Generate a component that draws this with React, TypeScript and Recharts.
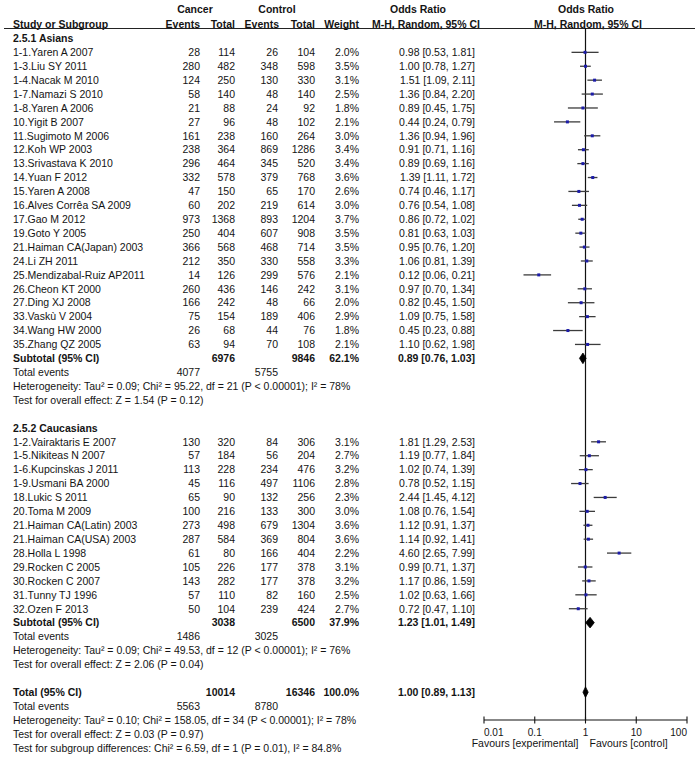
import React from 'react';
import { ComposedChart, XAxis, YAxis, Scatter, ErrorBar, ReferenceLine, Customized } from 'recharts';

const FONT = '"Liberation Sans", Arial, Helvetica, sans-serif';
const TEXT = '#141414';

// ---------- 2.5.1 Asians ----------
const asianStudies = [
  '1-1.Yaren A 2007', '1-3.Liu SY 2011', '1-4.Nacak M 2010', '1-7.Namazi S 2010', '1-8.Yaren A 2006',
  '10.Yigit B 2007', '11.Sugimoto M 2006', '12.Koh WP 2003', '13.Srivastava K 2010', '14.Yuan F 2012',
  '15.Yaren A 2008', '16.Alves Corrêa SA 2009', '17.Gao M 2012', '19.Goto Y 2005', '21.Haiman CA(Japan) 2003',
  '24.Li ZH 2011', '25.Mendizabal-Ruiz AP2011', '26.Cheon KT 2000', '27.Ding XJ 2008', '33.Vaskù V 2004',
  '34.Wang HW 2000', '35.Zhang QZ 2005',
];
const asianCancerEvents = [28, 280, 124, 58, 21, 27, 161, 238, 296, 332, 47, 60, 973, 250, 366, 212, 14, 260, 166, 75, 26, 63];
const asianCancerTotals = [114, 482, 250, 140, 88, 96, 238, 364, 464, 578, 150, 202, 1368, 404, 568, 350, 126, 436, 242, 154, 68, 94];
const asianControlEvents = [26, 348, 130, 48, 24, 48, 160, 869, 345, 379, 65, 219, 893, 607, 468, 330, 299, 146, 48, 189, 44, 70];
const asianControlTotals = [104, 598, 330, 140, 92, 102, 264, 1286, 520, 768, 170, 614, 1204, 908, 714, 558, 576, 242, 66, 406, 76, 108];
const asianWeights = [2.0, 3.5, 3.1, 2.5, 1.8, 2.1, 3.0, 3.4, 3.4, 3.6, 2.6, 3.0, 3.7, 3.5, 3.5, 3.3, 2.1, 3.1, 2.0, 2.9, 1.8, 2.1];
const asianOR = [0.98, 1.00, 1.51, 1.36, 0.89, 0.44, 1.36, 0.91, 0.89, 1.39, 0.74, 0.76, 0.86, 0.81, 0.95, 1.06, 0.12, 0.97, 0.82, 1.09, 0.45, 1.10];
const asianLow = [0.53, 0.78, 1.09, 0.84, 0.45, 0.24, 0.94, 0.71, 0.69, 1.11, 0.46, 0.54, 0.72, 0.63, 0.76, 0.81, 0.06, 0.70, 0.45, 0.75, 0.23, 0.62];
const asianHigh = [1.81, 1.27, 2.11, 2.20, 1.75, 0.79, 1.96, 1.16, 1.16, 1.72, 1.17, 1.08, 1.02, 1.03, 1.20, 1.39, 0.21, 1.34, 1.50, 1.58, 0.88, 1.98];

// ---------- 2.5.2 Caucasians ----------
const caucStudies = [
  '1-2.Vairaktaris E 2007', '1-5.Nikiteas N 2007', '1-6.Kupcinskas J 2011', '1-9.Usmani BA 2000', '18.Lukic S 2011',
  '20.Toma M 2009', '21.Haiman CA(Latin) 2003', '21.Haiman CA(USA) 2003', '28.Holla L 1998', '29.Rocken C 2005',
  '30.Rocken C 2007', '31.Tunny TJ 1996', '32.Ozen F 2013',
];
const caucCancerEvents = [130, 57, 113, 45, 65, 100, 273, 287, 61, 105, 143, 57, 50];
const caucCancerTotals = [320, 184, 228, 116, 90, 216, 498, 584, 80, 226, 282, 110, 104];
const caucControlEvents = [84, 56, 234, 497, 132, 133, 679, 369, 166, 177, 177, 82, 239];
const caucControlTotals = [306, 204, 476, 1106, 256, 300, 1304, 804, 404, 378, 378, 160, 424];
const caucWeights = [3.1, 2.7, 3.2, 2.8, 2.3, 3.0, 3.6, 3.6, 2.2, 3.1, 3.2, 2.5, 2.7];
const caucOR = [1.81, 1.19, 1.02, 0.78, 2.44, 1.08, 1.12, 1.14, 4.60, 0.99, 1.17, 1.02, 0.72];
const caucLow = [1.29, 0.77, 0.74, 0.52, 1.45, 0.76, 0.91, 0.92, 2.65, 0.71, 0.86, 0.63, 0.47];
const caucHigh = [2.53, 1.84, 1.39, 1.15, 4.12, 1.54, 1.37, 1.41, 7.99, 1.37, 1.59, 1.66, 1.10];

// ---------- subgroup summaries ----------
const subgroupTitles = ['2.5.1 Asians', '2.5.2 Caucasians'];
const subCancerTotals = [6976, 3038];
const subControlTotals = [9846, 6500];
const subWeights = [62.1, 37.9];
const subOR = [0.89, 1.23];
const subLow = [0.76, 1.01];
const subHigh = [1.03, 1.49];
const subCancerEvents = [4077, 1486];
const subControlEvents = [5755, 3025];
const subHeterogeneity = [
  'Heterogeneity: Tau² = 0.09; Chi² = 95.22, df = 21 (P < 0.00001); I² = 78%',
  'Heterogeneity: Tau² = 0.09; Chi² = 49.53, df = 12 (P < 0.00001); I² = 76%',
];
const subOverall = ['Test for overall effect: Z = 1.54 (P = 0.12)', 'Test for overall effect: Z = 2.06 (P = 0.04)'];

// ---------- overall ----------
const totalCancerTotal = 10014;
const totalControlTotal = 16346;
const totalWeight = 100.0;
const totalOR = [1.00, 0.89, 1.13];
const totalCancerEvents = 5563;
const totalControlEvents = 8780;
const totalNotes = [
  'Heterogeneity: Tau² = 0.10; Chi² = 158.05, df = 34 (P < 0.00001); I² = 78%',
  'Test for overall effect: Z = 0.03 (P = 0.97)',
  'Test for subgroup differences: Chi² = 6.59, df = 1 (P = 0.01), I² = 84.8%',
];

// ---------- axis ----------
const xTicks = [0.01, 0.1, 1, 10, 100];
const xTickLabels = ['0.01', '0.1', '1', '10', '100'];
const favoursLeft = 'Favours [experimental]';
const favoursRight = 'Favours [control]';

type Row = {
  pos: number;
  kind: 'group' | 'study' | 'subtotal' | 'events' | 'note' | 'blank';
  label?: string;
  c1?: string; c2?: string; c3?: string; c4?: string;
  weight?: string; ci?: string;
  est?: number; lo?: number; hi?: number;
};

const fmtCI = (e: number, l: number, h: number) => `${e.toFixed(2)} [${l.toFixed(2)}, ${h.toFixed(2)}]`;

const rows: Row[] = [];
const push = (r: Omit<Row, 'pos'>) => rows.push({ ...r, pos: rows.length } as Row);

const groups = [
  { names: asianStudies, ce: asianCancerEvents, ct: asianCancerTotals, oe: asianControlEvents, ot: asianControlTotals, w: asianWeights, or: asianOR, lo: asianLow, hi: asianHigh },
  { names: caucStudies, ce: caucCancerEvents, ct: caucCancerTotals, oe: caucControlEvents, ot: caucControlTotals, w: caucWeights, or: caucOR, lo: caucLow, hi: caucHigh },
];

groups.forEach((g, gi) => {
  push({ kind: 'group', label: subgroupTitles[gi] });
  g.names.forEach((n, i) => {
    push({
      kind: 'study', label: n,
      c1: String(g.ce[i]), c2: String(g.ct[i]), c3: String(g.oe[i]), c4: String(g.ot[i]),
      weight: `${g.w[i].toFixed(1)}%`, ci: fmtCI(g.or[i], g.lo[i], g.hi[i]),
      est: g.or[i], lo: g.lo[i], hi: g.hi[i],
    });
  });
  push({
    kind: 'subtotal', label: 'Subtotal (95% CI)', c2: String(subCancerTotals[gi]), c4: String(subControlTotals[gi]),
    weight: `${subWeights[gi].toFixed(1)}%`, ci: fmtCI(subOR[gi], subLow[gi], subHigh[gi]),
    est: subOR[gi], lo: subLow[gi], hi: subHigh[gi],
  });
  push({ kind: 'events', label: 'Total events', c1: String(subCancerEvents[gi]), c3: String(subControlEvents[gi]) });
  push({ kind: 'note', label: subHeterogeneity[gi] });
  push({ kind: 'note', label: subOverall[gi] });
  push({ kind: 'blank' });
});
push({
  kind: 'subtotal', label: 'Total (95% CI)', c2: String(totalCancerTotal), c4: String(totalControlTotal),
  weight: `${totalWeight.toFixed(1)}%`, ci: fmtCI(totalOR[0], totalOR[1], totalOR[2]),
  est: totalOR[0], lo: totalOR[1], hi: totalOR[2],
});
push({ kind: 'events', label: 'Total events', c1: String(totalCancerEvents), c3: String(totalControlEvents) });
totalNotes.forEach((t) => push({ kind: 'note', label: t }));

const rowTicks = rows.map((r) => r.pos);

const studyPoints = rows
  .filter((r) => r.kind === 'study')
  .map((r) => ({ x: r.est as number, y: r.pos, err: [(r.est as number) - (r.lo as number), (r.hi as number) - (r.est as number)] }));

const DIAMOND_HALF = 0.38;
const diamonds = rows
  .filter((r) => r.kind === 'subtotal')
  .map((r) => [
    { x: r.lo, y: r.pos },
    { x: r.est, y: r.pos - DIAMOND_HALF },
    { x: r.hi, y: r.pos },
    { x: r.est, y: r.pos + DIAMOND_HALF },
    { x: r.lo, y: r.pos },
  ]);

// column anchors
const COL_NAME = 13;
const COL_CE = 200;
const COL_CT = 235;
const COL_OE = 278;
const COL_OT = 315;
const COL_W = 359;
const COL_CI = 475;
const FS = 10.5;

const RowTick = (props: any) => {
  const { y, payload } = props;
  const row = rows[payload?.value];
  if (!row || row.kind === 'blank') return null;
  const bold = row.kind === 'group' || row.kind === 'subtotal';
  const common = { y, dy: '0.36em', fontFamily: FONT, fontSize: FS, fill: TEXT, fontWeight: bold ? 'bold' : 'normal' } as any;
  return (
    <g>
      <text {...common} x={COL_NAME} textAnchor="start">{row.label}</text>
      {row.c1 && <text {...common} x={COL_CE} textAnchor="end">{row.c1}</text>}
      {row.c2 && <text {...common} x={COL_CT} textAnchor="end">{row.c2}</text>}
      {row.c3 && <text {...common} x={COL_OE} textAnchor="end">{row.c3}</text>}
      {row.c4 && <text {...common} x={COL_OT} textAnchor="end">{row.c4}</text>}
      {row.weight && <text {...common} x={COL_W} textAnchor="end">{row.weight}</text>}
      {row.ci && <text {...common} x={COL_CI} textAnchor="end">{row.ci}</text>}
    </g>
  );
};

const AxisTick = (props: any) => {
  const { x, y, payload, index } = props;
  const i = xTicks.indexOf(payload.value);
  const anchor = i === 0 ? 'start' : i === xTicks.length - 1 ? 'end' : 'middle';
  return (
    <g>
      <line x1={x} x2={x} y1={y - 3.5} y2={y + 3.5} stroke="#111" strokeWidth={1.1} />
      <text x={x} y={y + 12} dy="0.36em" textAnchor={anchor} fontFamily={FONT} fontSize={10} fill={TEXT}>
        {xTickLabels[i] ?? String(payload.value)}
      </text>
      {payload.value === 1 && (
        <g fontFamily={FONT} fontSize={FS} fill={TEXT}>
          <text x={x - 7} y={y + 23.5} dy="0.36em" textAnchor="end">{favoursLeft}</text>
          <text x={x + 4} y={y + 23.5} dy="0.36em" textAnchor="start">{favoursRight}</text>
        </g>
      )}
    </g>
  );
};

const Header = () => {
  const t = { fontFamily: FONT, fontSize: FS, fill: TEXT, fontWeight: 'bold', dy: '0.36em' } as any;
  return (
    <g>
      <text {...t} x={195} y={9.5} textAnchor="middle">Cancer</text>
      <text {...t} x={277} y={9.5} textAnchor="middle">Control</text>
      <text {...t} x={418} y={9.5} textAnchor="middle">Odds Ratio</text>
      <text {...t} x={586} y={9.5} textAnchor="middle">Odds Ratio</text>
      <text {...t} x={COL_NAME} y={24} textAnchor="start">Study or Subgroup</text>
      <text {...t} x={COL_CE} y={24} textAnchor="end">Events</text>
      <text {...t} x={COL_CT} y={24} textAnchor="end">Total</text>
      <text {...t} x={COL_OE + 1} y={24} textAnchor="end">Events</text>
      <text {...t} x={COL_OT} y={24} textAnchor="end">Total</text>
      <text {...t} x={COL_W} y={24} textAnchor="end">Weight</text>
      <text {...t} x={426} y={24} textAnchor="middle">M-H, Random, 95% CI</text>
      <text {...t} x={588} y={24} textAnchor="middle">M-H, Random, 95% CI</text>
      <line x1={4} x2={695} y1={28.5} y2={28.5} stroke="#222" strokeWidth={1.2} />
    </g>
  );
};

const StudyMarker = (p: any) => (
  <rect x={p.cx - 1.5} y={p.cy - 1.5} width={3} height={3} fill="#1c1ca8" />
);

export default function App() {
  return (
    <div style={{ position: 'absolute', left: 0, top: 0, background: '#fff' }}>
      <ComposedChart width={695} height={764} margin={{ top: 28, right: 8, bottom: 0, left: 0 }}>
        <XAxis
          dataKey="x"
          type="number"
          scale="log"
          domain={[0.01, 100]}
          allowDataOverflow
          ticks={xTicks}
          interval={0}
          tick={(p: any) => <AxisTick {...p} />}
          tickLine={false}
          tickSize={0}
          tickMargin={0}
          axisLine={{ stroke: '#111', strokeWidth: 1.1 }}
          height={44}
        />
        <YAxis
          dataKey="y"
          type="number"
          domain={[-0.75, 49]}
          reversed
          allowDataOverflow
          ticks={rowTicks}
          interval={0}
          tick={(p: any) => <RowTick {...p} />}
          tickLine={false}
          axisLine={false}
          width={484}
        />
        <ReferenceLine x={1} stroke="#111" strokeWidth={1.2} ifOverflow="extendDomain" />
        <Scatter data={studyPoints} shape={StudyMarker} isAnimationActive={false}>
          <ErrorBar dataKey="err" direction="x" width={0} stroke="#3c3c3c" strokeWidth={1.3} isAnimationActive={false} />
        </Scatter>
        {diamonds.map((d, i) => (
          <Scatter
            key={`dia-${i}`}
            data={d}
            line={{ fill: '#000', stroke: '#000', strokeWidth: 0.8 }}
            lineType="joint"
            shape={() => <g />}
            isAnimationActive={false}
          />
        ))}
        <Customized component={Header} />
      </ComposedChart>
    </div>
  );
}
